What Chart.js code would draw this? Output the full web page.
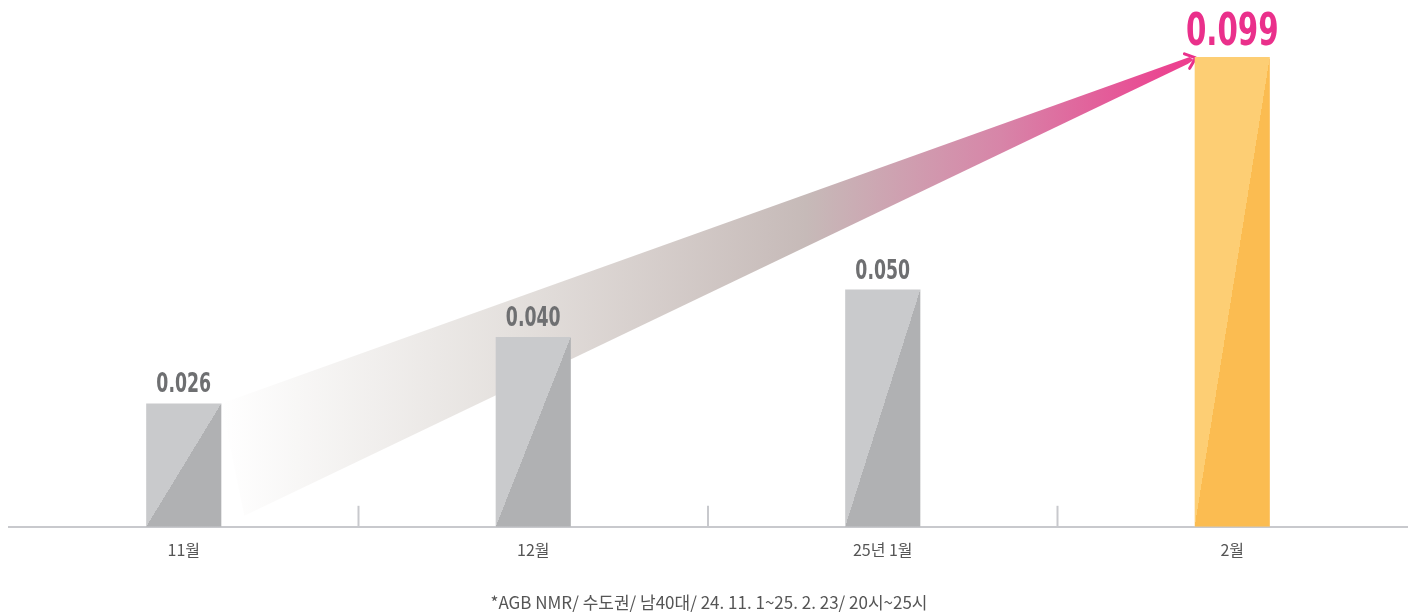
<!DOCTYPE html>
<html>
<head>
<meta charset="utf-8">
<script src="https://cdn.jsdelivr.net/npm/chart.js@4/dist/chart.umd.min.js"></script>
<style>
  html, body { margin: 0; padding: 0; background: #fff; }
  #wrap { width: 1414px; height: 613px; }
</style>
</head>
<body>
<div id="wrap"><canvas id="chart"></canvas></div>
<script>
const categories = ['11월', '12월', '25년 1월', '2월'];
const values = [0.026, 0.040, 0.050, 0.099];
const valueLabels = ['0.026', '0.040', '0.050', '0.099'];
const highlighted = [false, false, false, true];
const footnote = '*AGB NMR/ 수도권/ 남40대/ 24. 11. 1~25. 2. 23/ 20시~25시';

const GRAY_LIGHT = '#c9cacc';
const GRAY_DARK = '#b0b1b3';
const GOLD_LIGHT = '#fdce74';
const GOLD_DARK = '#fbbc51';
const PINK = '#ea308b';
const LABEL_GRAY = '#6e6f71';
const AXIS = '#c8c9cd';
const NUM_FONT = "'DejaVu Sans Condensed', 'DejaVu Sans', sans-serif";
const KR_FONT = "'Noto Sans CJK KR', 'Noto Sans', sans-serif";

const CAT_PCT = 0.215;

// two-tone fill split on the bottom-left -> top-right diagonal
function splitFill(ctx) {
  const chart = ctx.chart;
  const xs = chart.scales.x, ys = chart.scales.y;
  if (!xs || !ys || ctx.type !== 'data') return GRAY_LIGHT;
  const i = ctx.dataIndex;
  const light = highlighted[i] ? GOLD_LIGHT : GRAY_LIGHT;
  const dark = highlighted[i] ? GOLD_DARK : GRAY_DARK;
  const cx = xs.getPixelForValue(i);
  const w = (xs.right - xs.left) / categories.length * CAT_PCT;
  const top = ys.getPixelForValue(values[i]);
  const base = ys.getPixelForValue(0);
  const h = base - top;
  if (!isFinite(cx) || h <= 0) return light;
  const cy = (top + base) / 2;
  const len = Math.sqrt(h * h + w * w);
  const nx = h / len, ny = w / len, L = Math.max(w, h);
  const g = chart.ctx.createLinearGradient(cx - nx * L, cy - ny * L, cx + nx * L, cy + ny * L);
  g.addColorStop(0, light);
  g.addColorStop(0.5, light);
  g.addColorStop(0.5, dark);
  g.addColorStop(1, dark);
  return g;
}

function narrowText(c, text, x, y, sx) {
  c.save();
  c.translate(x, y);
  c.scale(sx, 1);
  c.fillText(text, 0, 0);
  c.restore();
}

const decor = {
  id: 'decor',
  beforeDatasetsDraw(chart) {
    const c = chart.ctx;
    const bars = chart.getDatasetMeta(0).data;
    const b0 = bars[0].getProps(['x', 'y', 'base', 'width'], true);
    const b3 = bars[3].getProps(['x', 'y', 'base', 'width'], true);
    const ux = b0.x + b0.width / 2, uy = b0.y;
    const lx = ux + 23, ly = b0.base - 11;
    const tx = b3.x - b3.width / 2 + 1, ty = b3.y + 1;

    const g = c.createLinearGradient(ux, 0, tx, 0);
    g.addColorStop(0, 'rgba(255,255,255,1)');
    g.addColorStop(0.3, '#e4e0dd');
    g.addColorStop(0.6, '#c6bab8');
    g.addColorStop(0.8, '#d785a8');
    g.addColorStop(1, '#ee3a8d');

    c.save();
    c.beginPath();
    c.moveTo(ux, uy);
    c.lineTo(tx - 6, ty - 1);
    c.lineTo(tx - 2, ty + 2);
    c.lineTo(tx - 8, ty + 6);
    c.lineTo(lx, ly);
    c.closePath();
    c.fillStyle = g;
    c.fill();

    // arrow head
    const ang = Math.atan2(ty - (uy + ly) / 2, tx - (ux + lx) / 2);
    c.strokeStyle = PINK;
    c.lineWidth = 3;
    c.lineCap = 'round';
    c.lineJoin = 'round';
    c.beginPath();
    c.moveTo(tx + Math.cos(ang + Math.PI - 0.65) * 12, ty + Math.sin(ang + Math.PI - 0.65) * 12);
    c.lineTo(tx, ty);
    c.lineTo(tx + Math.cos(ang + Math.PI + 0.75) * 12, ty + Math.sin(ang + Math.PI + 0.75) * 12);
    c.stroke();
    c.restore();
  },
  afterDatasetsDraw(chart) {
    const c = chart.ctx;
    const xs = chart.scales.x;
    const bottom = chart.chartArea.bottom;
    c.save();
    // short separators between categories
    c.strokeStyle = AXIS;
    c.lineWidth = 2;
    for (let i = 0; i < categories.length - 1; i++) {
      const x = (xs.getPixelForValue(i) + xs.getPixelForValue(i + 1)) / 2;
      c.beginPath();
      c.moveTo(x, bottom);
      c.lineTo(x, bottom - 21);
      c.stroke();
    }
    // value labels
    c.textAlign = 'center';
    c.textBaseline = 'alphabetic';
    chart.getDatasetMeta(0).data.forEach((bar, i) => {
      if (highlighted[i]) {
        c.fillStyle = PINK;
        c.font = 'bold 44px ' + NUM_FONT;
        narrowText(c, valueLabels[i], bar.x, bar.y - 12, 0.74);
      } else {
        c.fillStyle = LABEL_GRAY;
        c.font = 'bold 26px ' + NUM_FONT;
        narrowText(c, valueLabels[i], bar.x, bar.y - 11, 0.74);
      }
    });
    // footnote
    c.fillStyle = '#555';
    c.font = '17px ' + KR_FONT;
    c.textBaseline = 'middle';
    c.fillText(footnote, chart.width / 2 + 2, 603);
    c.restore();
  }
};

new Chart(document.getElementById('chart'), {
  type: 'bar',
  data: {
    labels: categories,
    datasets: [{
      data: values,
      backgroundColor: splitFill,
      borderWidth: 0,
      barPercentage: 1,
      categoryPercentage: CAT_PCT
    }]
  },
  options: {
    responsive: true,
    maintainAspectRatio: false,
    animation: false,
    events: [],
    layout: { padding: { left: 9, right: 7, top: 0, bottom: 39 } },
    plugins: { legend: { display: false }, tooltip: { enabled: false }, title: { display: false } },
    scales: {
      x: {
        grid: { display: false, drawTicks: false },
        border: { display: true, color: AXIS, width: 2 },
        ticks: { color: '#555', padding: 14, font: { size: 16, family: KR_FONT } }
      },
      y: {
        display: false,
        min: 0,
        max: 0.111
      }
    }
  },
  plugins: [decor]
});
</script>
</body>
</html>
